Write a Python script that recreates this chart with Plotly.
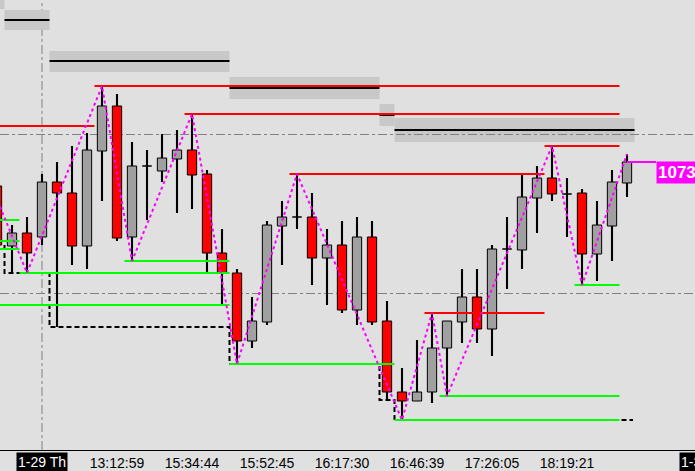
import plotly.graph_objects as go

# ---------------- data ----------------
candle_idx = list(range(43))
opens = [10715, 10655, 10668, 10664, 10719, 10708, 10655, 10750, 10795, 10664, 10735, 10730, 10742, 10751,
         10727, 10648, 10628, 10560, 10579, 10675, 10684, 10684, 10643, 10656, 10591, 10664, 10580, 10509,
         10500, 10509, 10553, 10579, 10604, 10572, 10652, 10651, 10703, 10723, 10707, 10708, 10647, 10675, 10718]
closes = [10656, 10668, 10648, 10719, 10708, 10655, 10751, 10795, 10663, 10735, 10735, 10743, 10751, 10726,
          10648, 10628, 10560, 10580, 10676, 10684, 10684, 10643, 10656, 10591, 10664, 10579, 10509, 10500,
          10509, 10553, 10580, 10604, 10572, 10652, 10652, 10704, 10723, 10707, 10707, 10647, 10676, 10719, 10739]
highs = [10725, 10676, 10684, 10727, 10739, 10755, 10768, 10815, 10807, 10759, 10751, 10767, 10771, 10787,
         10731, 10672, 10632, 10604, 10680, 10700, 10727, 10708, 10672, 10680, 10684, 10680, 10600, 10533,
         10561, 10588, 10580, 10632, 10632, 10656, 10684, 10726, 10735, 10755, 10723, 10712, 10700, 10731, 10747]
lows = [10649, 10628, 10628, 10656, 10574, 10636, 10632, 10700, 10660, 10640, 10681, 10719, 10688, 10692,
        10628, 10597, 10537, 10553, 10576, 10636, 10672, 10616, 10596, 10588, 10576, 10576, 10501, 10481,
        10500, 10498, 10505, 10558, 10558, 10545, 10612, 10632, 10668, 10700, 10664, 10616, 10620, 10640, 10704]

time_tick_idx = [8, 13, 18, 23, 28, 33, 38]
time_labels = ["13:12:59", "15:34:44", "15:52:45", "16:17:30", "16:46:39", "17:26:05", "18:19:21"]
date_idx = [3, 47.07]
date_labels = ["1-29 Th", "1-30 Fr"]

grid_levels = [10608, 10767]

red_levels = [10775, 10815, 10787, 10727, 10755, 10588]
red_start = [-1, 6.5, 12.5, 19.5, 36.5, 28.5]
red_end = [6.5, 41.5, 41.5, 36.5, 41.5, 36.5]

green_levels = [10681, 10660, 10652, 10640, 10628, 10596, 10537, 10505, 10481, 10616]
green_start = [-1, -1, -1, 8.5, 1.5, -1, 15.5, 29.5, 26.5, 38.5]
green_end = [1.5, 1.5, 1.5, 15.5, 15.5, 15.5, 26.5, 41.5, 41.5, 41.5]

stop_x = [0.5, 0.5, 3.5, 3.5, 15.5, 15.5, 25.5, 25.5, 26.5, 26.5, 42.4]
stop_y = [10656, 10628, 10628, 10574, 10574, 10537, 10537, 10501, 10501, 10481, 10481]

box_x0 = [-1, 0.5, 3.5, 15.5, 25.5, 26.5]
box_x1 = [0.5, 3.5, 15.5, 25.5, 26.5, 42.5]
box_lo = [10892, 10871, 10829, 10802, 10775, 10759]
box_hi = [10914, 10891, 10850, 10824, 10797, 10783]
box_mid = [10903, 10881, 10840, 10813, 10786, 10771]

zz_x = [-1, 2, 7, 9, 13, 16, 20, 27, 29, 30, 37, 39, 42]
zz_y = [10739, 10628, 10815, 10640, 10787, 10537, 10727, 10481, 10588, 10505, 10755, 10616, 10747]

label_idx = 43.93

X_RANGE = [0.2, 46.533]
Y_RANGE = [10451, 10901]

BG = "#e0e0e0"
FONT = "Liberation Sans, Arial, sans-serif"

fig = go.Figure()

# wicks
fig.add_trace(go.Bar(
    x=candle_idx, base=lows, y=[h - l for h, l in zip(highs, lows)],
    width=0.14, marker=dict(color="black", line=dict(width=0)),
    hoverinfo="skip", showlegend=False))

# bodies
body_colors = ["#ff0000" if c < o else "#a0a0a0" for o, c in zip(opens, closes)]
fig.add_trace(go.Bar(
    x=candle_idx, base=[min(o, c) for o, c in zip(opens, closes)],
    y=[abs(c - o) for o, c in zip(opens, closes)],
    width=0.62, marker=dict(color=body_colors, line=dict(color="black", width=1)),
    hoverinfo="skip", showlegend=False))


def segs(levels, x0s, x1s):
    xs, ys = [], []
    for lv, a, b in zip(levels, x0s, x1s):
        xs += [a, b, None]
        ys += [lv, lv, None]
    return xs, ys


# stop step line
fig.add_trace(go.Scatter(x=stop_x, y=stop_y, mode="lines",
                         line=dict(color="black", width=2, dash="5px,3px"),
                         hoverinfo="skip", showlegend=False))

# box centre lines
bx, by = segs(box_mid, box_x0, box_x1)
fig.add_trace(go.Scatter(x=bx, y=by, mode="lines", line=dict(color="black", width=2),
                         hoverinfo="skip", showlegend=False))

gx, gy = segs(green_levels, green_start, green_end)
fig.add_trace(go.Scatter(x=gx, y=gy, mode="lines", line=dict(color="#00ff00", width=2),
                         hoverinfo="skip", showlegend=False))

rx, ry = segs(red_levels, red_start, red_end)
fig.add_trace(go.Scatter(x=rx, y=ry, mode="lines", line=dict(color="#ff0000", width=2),
                         hoverinfo="skip", showlegend=False))

# zigzag
fig.add_trace(go.Scatter(x=zz_x, y=zz_y, mode="lines",
                         line=dict(color="#ff00ff", width=2, dash="3px,3px"),
                         hoverinfo="skip", showlegend=False))

# last price line
fig.add_trace(go.Scatter(x=[candle_idx[-1], label_idx], y=[closes[-1], closes[-1]], mode="lines",
                         line=dict(color="#ff00ff", width=2),
                         hoverinfo="skip", showlegend=False))

shapes = []
for a, b, lo, hi in zip(box_x0, box_x1, box_lo, box_hi):
    shapes.append(dict(type="rect", xref="x", yref="y", x0=a, x1=b, y0=lo, y1=hi,
                       fillcolor="#c8c8c8", line=dict(width=0), layer="below"))
shapes.append(dict(type="line", xref="x", yref="paper", x0=date_idx[0], x1=date_idx[0], y0=0, y1=1,
                   line=dict(color="#808080", width=1, dash="dashdot"), layer="below"))

annotations = []


def to_paper(v):
    return (v - X_RANGE[0]) / (X_RANGE[1] - X_RANGE[0])


for d, t in zip(date_idx, date_labels):
    annotations.append(dict(x=to_paper(d), xref="paper", y=0, yref="paper", yanchor="top",
                            xanchor="center", yshift=-2, text=t, showarrow=False,
                            font=dict(family=FONT, size=14, color="white"),
                            bgcolor="black", borderpad=1))

annotations.append(dict(x=label_idx, xref="x", y=closes[-1] + 1, yref="y", xanchor="left",
                        yanchor="top", text=str(closes[-1]), showarrow=False,
                        font=dict(family=FONT, size=17, color="white", weight="bold"),
                        bgcolor="#ff00ff", borderpad=1))

fig.update_layout(
    width=695, height=471,
    margin=dict(l=0, r=0, t=0, b=21, pad=0),
    paper_bgcolor=BG, plot_bgcolor=BG,
    barmode="overlay",
    showlegend=False,
    shapes=shapes,
    annotations=annotations,
    xaxis=dict(range=X_RANGE, showgrid=False, zeroline=False, showline=True,
               linecolor="black", linewidth=1, tickvals=time_tick_idx, ticktext=time_labels,
               ticks="", tickfont=dict(family=FONT, size=14, color="black"), fixedrange=True),
    yaxis=dict(range=Y_RANGE, tickvals=grid_levels, showticklabels=False, showgrid=True,
               gridcolor="#808080", gridwidth=1, griddash="dashdot", zeroline=False,
               showline=False, ticks="", fixedrange=True),
)

fig.write_html("out.html", config={"displayModeBar": False},
               post_script="document.body.style.margin='0';document.body.style.background='%s';" % BG)
